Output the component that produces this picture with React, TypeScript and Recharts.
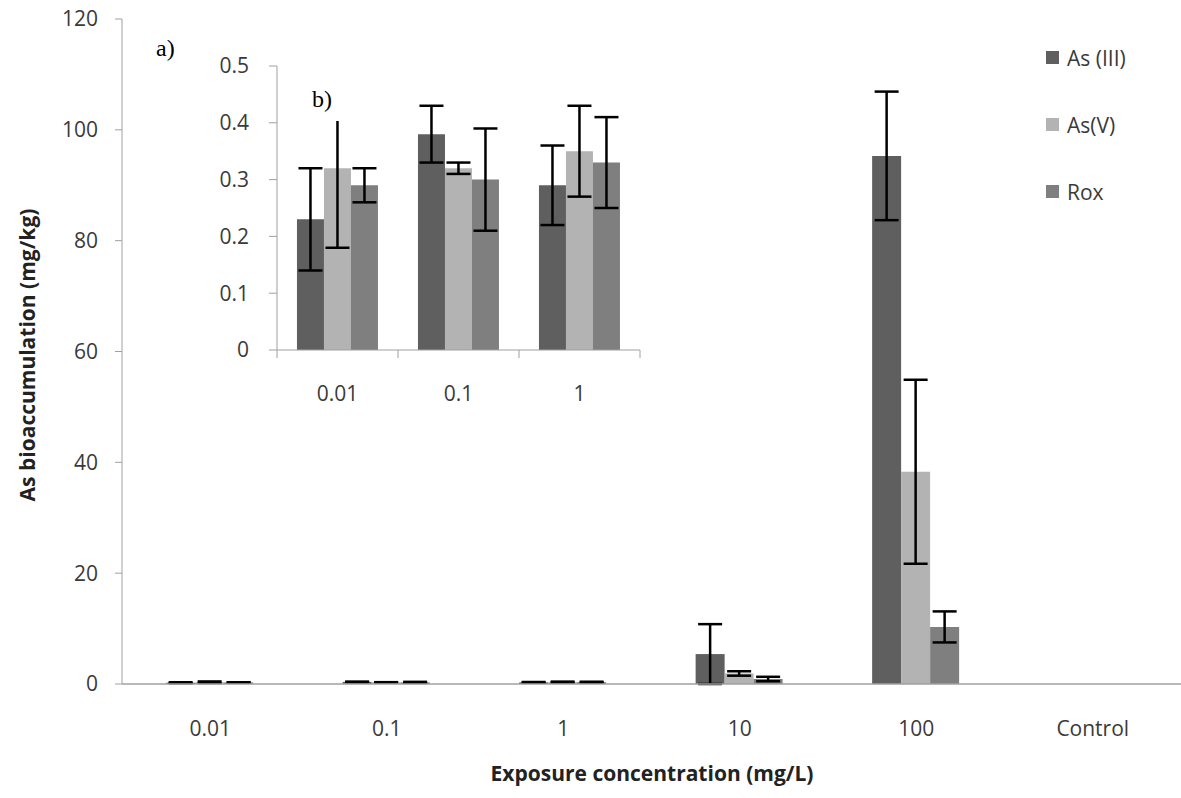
import React from 'react';
import { BarChart, Bar, XAxis, YAxis, ErrorBar } from 'recharts';

const categories = ['0.01', '0.1', '1', '10', '100', 'Control'];
const as3 = [0.23, 0.38, 0.29, 5.4, 95.3, null];
const as3Err = [0.09, 0.05, 0.07, 5.4, 11.6, null];
const as5 = [0.32, 0.32, 0.35, 1.9, 38.3, null];
const as5Err = [0.14, 0.01, 0.08, 0.4, 16.6, null];
const rox = [0.29, 0.3, 0.33, 0.9, 10.3, null];
const roxErr = [0.03, 0.09, 0.08, 0.4, 2.8, null];
const mainTicks = [0, 20, 40, 60, 80, 100, 120];
const insetTicks = [0, 0.1, 0.2, 0.3, 0.4, 0.5];
const insetCount = 3;
const seriesNames = ['As (III)', 'As(V)', 'Rox'];
const colors = ['#5f5f5f', '#b3b3b3', '#7f7f7f'];

const mainData = categories.map((c, i) => ({
  cat: c,
  as3: as3[i],
  as3Err: as3Err[i],
  as5: as5[i],
  as5Err: as5Err[i],
  rox: rox[i],
  roxErr: roxErr[i],
}));
const insetData = mainData.slice(0, insetCount);

const FONT = '"Open Sans", sans-serif';
const AXIS = '#a0a0a0';
const TEXT = '#3a3a3a';

const MainXTick = (props: any) => {
  const { x, y, payload } = props;
  return (
    <text x={x} y={y + 52} textAnchor="middle" fontFamily={FONT} fontSize={21} fill={TEXT}>
      {payload.value}
    </text>
  );
};

const InsetXTick = (props: any) => {
  const { x, y, payload, width, visibleTicksCount, index } = props;
  const bw = width / visibleTicksCount;
  return (
    <g>
      <line x1={x - bw / 2} x2={x - bw / 2} y1={y} y2={y + 8} stroke={AXIS} strokeWidth={1} />
      {index === visibleTicksCount - 1 && (
        <line x1={x + bw / 2} x2={x + bw / 2} y1={y} y2={y + 8} stroke={AXIS} strokeWidth={1} />
      )}
      <text x={x} y={y + 51} textAnchor="middle" fontFamily={FONT} fontSize={21} fill={TEXT}>
        {payload.value}
      </text>
    </g>
  );
};

const LegendBox = () => (
  <div style={{ position: 'absolute', left: 1046, top: 24 }}>
    {seriesNames.map((n, i) => (
      <div
        key={n}
        style={{ display: 'flex', alignItems: 'center', height: 67, fontFamily: FONT, fontSize: 21, color: TEXT }}
      >
        <span style={{ display: 'inline-block', width: 13, height: 13, background: colors[i], marginRight: 8 }} />
        <span>{n}</span>
      </div>
    ))}
  </div>
);

export default function App() {
  return (
    <div style={{ position: 'absolute', left: 0, top: 0, width: 1181, height: 798, background: '#fff' }}>
      <div style={{ position: 'absolute', left: 0, top: 0 }}>
        <BarChart
          width={1181}
          height={798}
          data={mainData}
          margin={{ top: 19, right: 0, bottom: 54, left: 0 }}
          barCategoryGap="25%"
          barGap={0}
        >
          <XAxis
            dataKey="cat"
            axisLine={{ stroke: AXIS, strokeWidth: 1.5 }}
            tickLine={false}
            tickSize={0}
            tickMargin={0}
            height={60}
            tick={<MainXTick />}
            interval={0}
          />
          <YAxis
            domain={[0, 120]}
            ticks={mainTicks}
            width={122}
            axisLine={{ stroke: AXIS, strokeWidth: 1 }}
            tickLine={{ stroke: AXIS }}
            tickSize={7}
            tickMargin={17}
            tick={{ fontFamily: FONT, fontSize: 21, fill: TEXT }}
          />
          <Bar dataKey="as3" name={seriesNames[0]} fill={colors[0]} isAnimationActive={false}>
            <ErrorBar dataKey="as3Err" width={12} strokeWidth={2.5} stroke="#000" />
          </Bar>
          <Bar dataKey="as5" name={seriesNames[1]} fill={colors[1]} isAnimationActive={false}>
            <ErrorBar dataKey="as5Err" width={12} strokeWidth={2.5} stroke="#000" />
          </Bar>
          <Bar dataKey="rox" name={seriesNames[2]} fill={colors[2]} isAnimationActive={false}>
            <ErrorBar dataKey="roxErr" width={12} strokeWidth={2.5} stroke="#000" />
          </Bar>
        </BarChart>
      </div>

      <div style={{ position: 'absolute', left: 200, top: 50 }}>
        <BarChart
          width={450}
          height={370}
          data={insetData}
          margin={{ top: 16, right: 10, bottom: 10, left: 0 }}
          barCategoryGap="16.5%"
          barGap={0}
        >
          <XAxis
            dataKey="cat"
            axisLine={{ stroke: AXIS, strokeWidth: 1 }}
            tickLine={false}
            tickSize={0}
            tickMargin={0}
            height={60}
            tick={<InsetXTick />}
            interval={0}
          />
          <YAxis
            domain={[0, 0.5]}
            ticks={insetTicks}
            width={77}
            axisLine={{ stroke: AXIS, strokeWidth: 1 }}
            tickLine={{ stroke: AXIS }}
            tickSize={8}
            tickMargin={20}
            tick={{ fontFamily: FONT, fontSize: 21, fill: TEXT }}
          />
          <Bar dataKey="as3" fill={colors[0]} isAnimationActive={false}>
            <ErrorBar dataKey="as3Err" width={12} strokeWidth={2.5} stroke="#000" />
          </Bar>
          <Bar dataKey="as5" fill={colors[1]} isAnimationActive={false}>
            <ErrorBar dataKey="as5Err" width={12} strokeWidth={2.5} stroke="#000" />
          </Bar>
          <Bar dataKey="rox" fill={colors[2]} isAnimationActive={false}>
            <ErrorBar dataKey="roxErr" width={12} strokeWidth={2.5} stroke="#000" />
          </Bar>
        </BarChart>
      </div>

      <LegendBox />

      <div
        style={{
          position: 'absolute',
          left: 27,
          top: 355,
          transform: 'translate(-50%, -50%) rotate(-90deg)',
          whiteSpace: 'nowrap',
          fontFamily: FONT,
          fontWeight: 700,
          fontSize: 21,
          color: '#222',
        }}
      >
        As bioaccumulation (mg/kg)
      </div>
      <div
        style={{
          position: 'absolute',
          left: 652,
          top: 773,
          transform: 'translate(-50%, -50%)',
          whiteSpace: 'nowrap',
          fontFamily: FONT,
          fontWeight: 700,
          fontSize: 21,
          color: '#222',
        }}
      >
        Exposure concentration (mg/L)
      </div>
      <div
        style={{
          position: 'absolute',
          left: 156,
          top: 33,
          fontFamily: '"Liberation Serif", "Times New Roman", serif',
          fontSize: 24,
          color: '#000',
          lineHeight: '30px',
        }}
      >
        a)
      </div>
      <div
        style={{
          position: 'absolute',
          left: 306,
          top: 70,
          width: 50,
          height: 51,
          background: '#fff',
          fontFamily: '"Liberation Serif", "Times New Roman", serif',
          fontSize: 24,
          color: '#000',
          lineHeight: '30px',
          paddingTop: 14,
          paddingLeft: 6,
          boxSizing: 'border-box',
        }}
      >
        b)
      </div>
    </div>
  );
}
